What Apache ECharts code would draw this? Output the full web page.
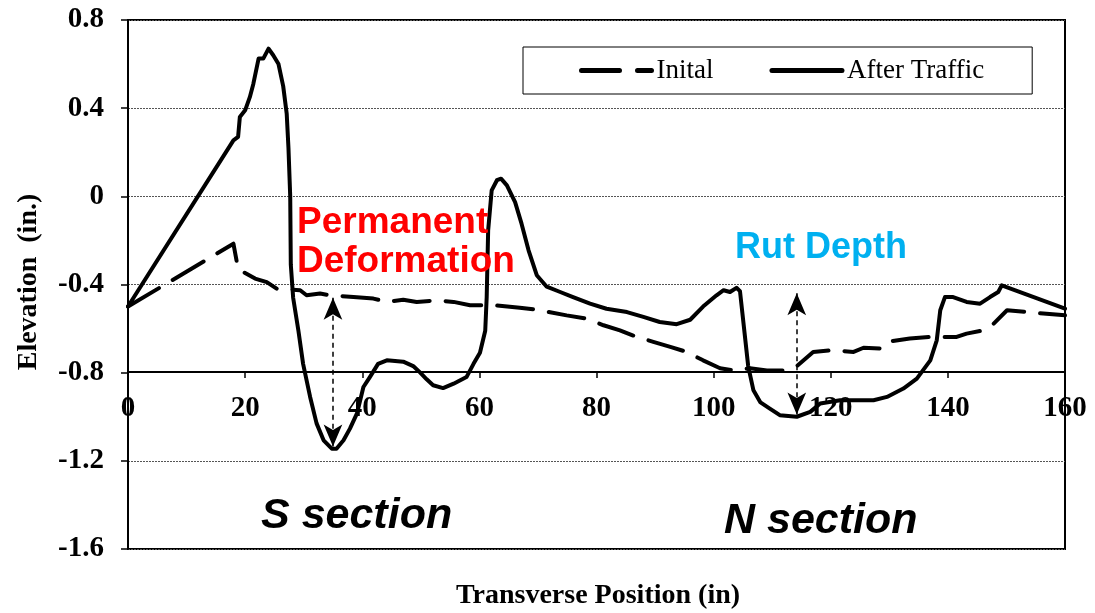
<!DOCTYPE html>
<html>
<head>
<meta charset="utf-8">
<script src="https://cdn.jsdelivr.net/npm/echarts@6/dist/echarts.min.js"></script>
<style>html,body{margin:0;padding:0;background:#fff;}#c{width:1095px;height:613px;}</style>
</head>
<body>
<div id="c"></div>
<script>
// ---- data ----
var afterX = [0, 18.0, 18.8, 19.1, 20.0, 20.8, 21.4, 22.3, 23.1, 24.0, 24.8, 25.7, 26.5, 27.1, 27.4, 27.7, 27.8, 28.2, 29.1, 29.9, 31.1, 32.2, 33.4, 34.8, 35.6, 36.8, 37.9, 39.1, 40.2, 41.3, 42.7, 44.2, 47.0, 48.7, 49.9, 51.0, 52.1, 53.8, 55.6, 57.8, 59.0, 60.1, 61.0, 61.25, 61.5, 62.1, 63.0, 63.7, 64.7, 66.1, 67.2, 68.4, 69.8, 71.5, 73.8, 76.0, 78.9, 81.7, 85.2, 88.0, 90.8, 93.7, 96.0, 98.2, 100.5, 101.7, 102.8, 103.9, 104.5, 105.2, 105.9, 106.8, 108.0, 109.6, 111.3, 114.2, 116.5, 118.2, 121.6, 125.0, 127.3, 129.6, 132.4, 134.7, 137.0, 138.1, 138.7, 139.5, 140.9, 143.2, 145.5, 147.2, 148.6, 149.2, 160];
var afterY = [-0.50, 0.254, 0.27, 0.36, 0.39, 0.45, 0.51, 0.625, 0.625, 0.67, 0.64, 0.60, 0.50, 0.375, 0.22, 0.0, -0.31, -0.46, -0.61, -0.76, -0.91, -1.03, -1.107, -1.145, -1.145, -1.107, -1.054, -0.985, -0.865, -0.82, -0.76, -0.744, -0.75, -0.77, -0.80, -0.83, -0.857, -0.87, -0.85, -0.82, -0.76, -0.71, -0.61, -0.457, -0.154, 0.027, 0.073, 0.08, 0.05, -0.026, -0.124, -0.245, -0.358, -0.41, -0.434, -0.457, -0.487, -0.51, -0.525, -0.547, -0.57, -0.58, -0.56, -0.50, -0.449, -0.426, -0.434, -0.415, -0.43, -0.6, -0.77, -0.88, -0.935, -0.963, -0.993, -1.0, -0.978, -0.94, -0.925, -0.925, -0.925, -0.91, -0.872, -0.827, -0.744, -0.653, -0.517, -0.457, -0.457, -0.479, -0.487, -0.457, -0.434, -0.404, -0.51];
var initX = [0, 18.0, 18.8, 21.7, 23.7, 25.4, 26.5, 29.4, 30.5, 32.8, 34.5, 38.5, 41.9, 44.2, 47.0, 49.3, 52.7, 55.6, 58.4, 62.4, 66.9, 70.4, 74.9, 78.3, 81.2, 84.0, 86.9, 89.7, 92.6, 95.4, 98.2, 101.1, 103.4, 106.2, 109.1, 111.9, 114.2, 117.0, 120.4, 123.9, 125.6, 128.4, 129.6, 133.5, 137.0, 141.5, 143.2, 146.1, 147.8, 150.1, 156.3, 160];
var initY = [-0.50, -0.215, -0.33, -0.373, -0.389, -0.419, -0.42, -0.426, -0.449, -0.441, -0.449, -0.457, -0.464, -0.479, -0.469, -0.479, -0.472, -0.479, -0.494, -0.494, -0.505, -0.517, -0.54, -0.555, -0.585, -0.608, -0.638, -0.66, -0.683, -0.706, -0.744, -0.78, -0.79, -0.78, -0.79, -0.79, -0.77, -0.706, -0.698, -0.706, -0.687, -0.69, -0.66, -0.645, -0.638, -0.638, -0.623, -0.608, -0.578, -0.517, -0.532, -0.54];
var xTicks = [0, 20, 40, 60, 80, 100, 120, 140, 160];
var yTicks = [0.8, 0.4, 0, -0.4, -0.8, -1.2, -1.6];
// double arrows: [x, yTop, yBottom]
var arrowPD = [35, -0.46, -1.135];
var arrowRD = [114.2, -0.44, -0.99];

function zip(a, b) { return a.map(function (v, i) { return [v, b[i]]; }); }

var chart = echarts.init(document.getElementById('c'), null, { renderer: 'canvas' });
var serif = 'Liberation Serif';
chart.setOption({
  animation: false,
  backgroundColor: '#fff',
  grid: [
    { left: 128, right: 30, top: 20, bottom: 64, show: true, borderColor: '#000', borderWidth: 2, backgroundColor: 'transparent' },
    { left: 128, right: 30, top: 371, height: 1, show: false }
  ],
  xAxis: [
    { gridIndex: 0, type: 'value', min: 0, max: 160, interval: 20, show: false },
    { gridIndex: 1, type: 'value', min: 0, max: 160, interval: 20, position: 'bottom',
      axisLine: { show: true, lineStyle: { color: '#000', width: 2 } },
      axisTick: { show: true, length: 6, lineStyle: { color: '#000', width: 1.5 } },
      splitLine: { show: false },
      axisLabel: { margin: 22, color: '#000', fontFamily: serif, fontWeight: 'bold', fontSize: 29, showMinLabel: true, showMaxLabel: true }
    }
  ],
  yAxis: [
    { gridIndex: 0, type: 'value', min: -1.6, max: 0.8, interval: 0.4,
      axisLine: { show: true, lineStyle: { color: '#000', width: 2 } },
      axisTick: { show: true, length: 7, lineStyle: { color: '#000', width: 1.5 } },
      splitLine: { show: true, lineStyle: { color: '#555', width: 1, type: [2, 1] } },
      axisLabel: { margin: 24, color: '#000', fontFamily: serif, fontWeight: 'bold', fontSize: 29,
        formatter: function (v) { var r = Math.round(v * 10) / 10; return String(r === 0 ? 0 : r); } }
    },
    { gridIndex: 1, type: 'value', min: 0, max: 1, show: false }
  ],
  legend: {
    left: 523, top: 47,
    padding: [10, 48, 10, 56],
    borderColor: '#000', borderWidth: 1, backgroundColor: '#fff',
    itemWidth: 70, itemHeight: 14, itemGap: 56,
    textStyle: { fontFamily: serif, fontSize: 27, color: '#000' },
    data: [
      { name: 'Inital', itemStyle: { opacity: 0 }, lineStyle: { type: [38, 18], width: 5, cap: 'round', color: '#000' } },
      { name: 'After Traffic', itemStyle: { opacity: 0 }, lineStyle: { width: 5, cap: 'round', color: '#000' } }
    ]
  },
  series: [
    { name: 'Inital', type: 'line', xAxisIndex: 0, yAxisIndex: 0, data: zip(initX, initY),
      symbol: 'none', smooth: false, itemStyle: { color: '#000' },
      lineStyle: { color: '#000', width: 4, type: [36, 16], cap: 'round', join: 'round' }, z: 3 },
    { name: 'After Traffic', type: 'line', xAxisIndex: 0, yAxisIndex: 0, data: zip(afterX, afterY),
      symbol: 'none', smooth: false, itemStyle: { color: '#000' },
      lineStyle: { color: '#000', width: 4, cap: 'round', join: 'round' }, z: 4,
      markLine: {
        silent: true, animation: false,
        symbol: ['arrow', 'arrow'], symbolSize: [14, 22],
        lineStyle: { color: '#000', width: 1.5, type: [5, 4] },
        label: { show: false },
        data: [
          [{ coord: [arrowPD[0], arrowPD[1]] }, { coord: [arrowPD[0], arrowPD[2]] }],
          [{ coord: [arrowRD[0], arrowRD[1]] }, { coord: [arrowRD[0], arrowRD[2]] }]
        ]
      }
    }
  ],
  graphic: [
    { type: 'text', left: 297, top: 203, style: { text: 'Permanent\nDeformation', fill: '#FF0000', font: 'bold 37px "Liberation Sans"', lineHeight: 39 }, z: 10 },
    { type: 'text', left: 735, top: 230, style: { text: 'Rut Depth', fill: '#00B0F0', font: 'bold 36px "Liberation Sans"' }, z: 10 },
    { type: 'text', left: 261, top: 495, style: { text: 'S section', fill: '#000', font: 'italic bold 43px "Liberation Sans"' }, z: 10 },
    { type: 'text', left: 724, top: 500, style: { text: 'N section', fill: '#000', font: 'italic bold 43px "Liberation Sans"' }, z: 10 },
    { type: 'text', x: 29, y: 282, rotation: Math.PI / 2, style: { text: 'Elevation  (in.)', fill: '#000', font: 'bold 28px "Liberation Serif"', align: 'center', verticalAlign: 'middle' }, z: 10 },
    { type: 'text', x: 598, y: 596, style: { text: 'Transverse Position (in)', fill: '#000', font: 'bold 28px "Liberation Serif"', align: 'center', verticalAlign: 'middle' }, z: 10 }
  ]
});
</script>
</body>
</html>
